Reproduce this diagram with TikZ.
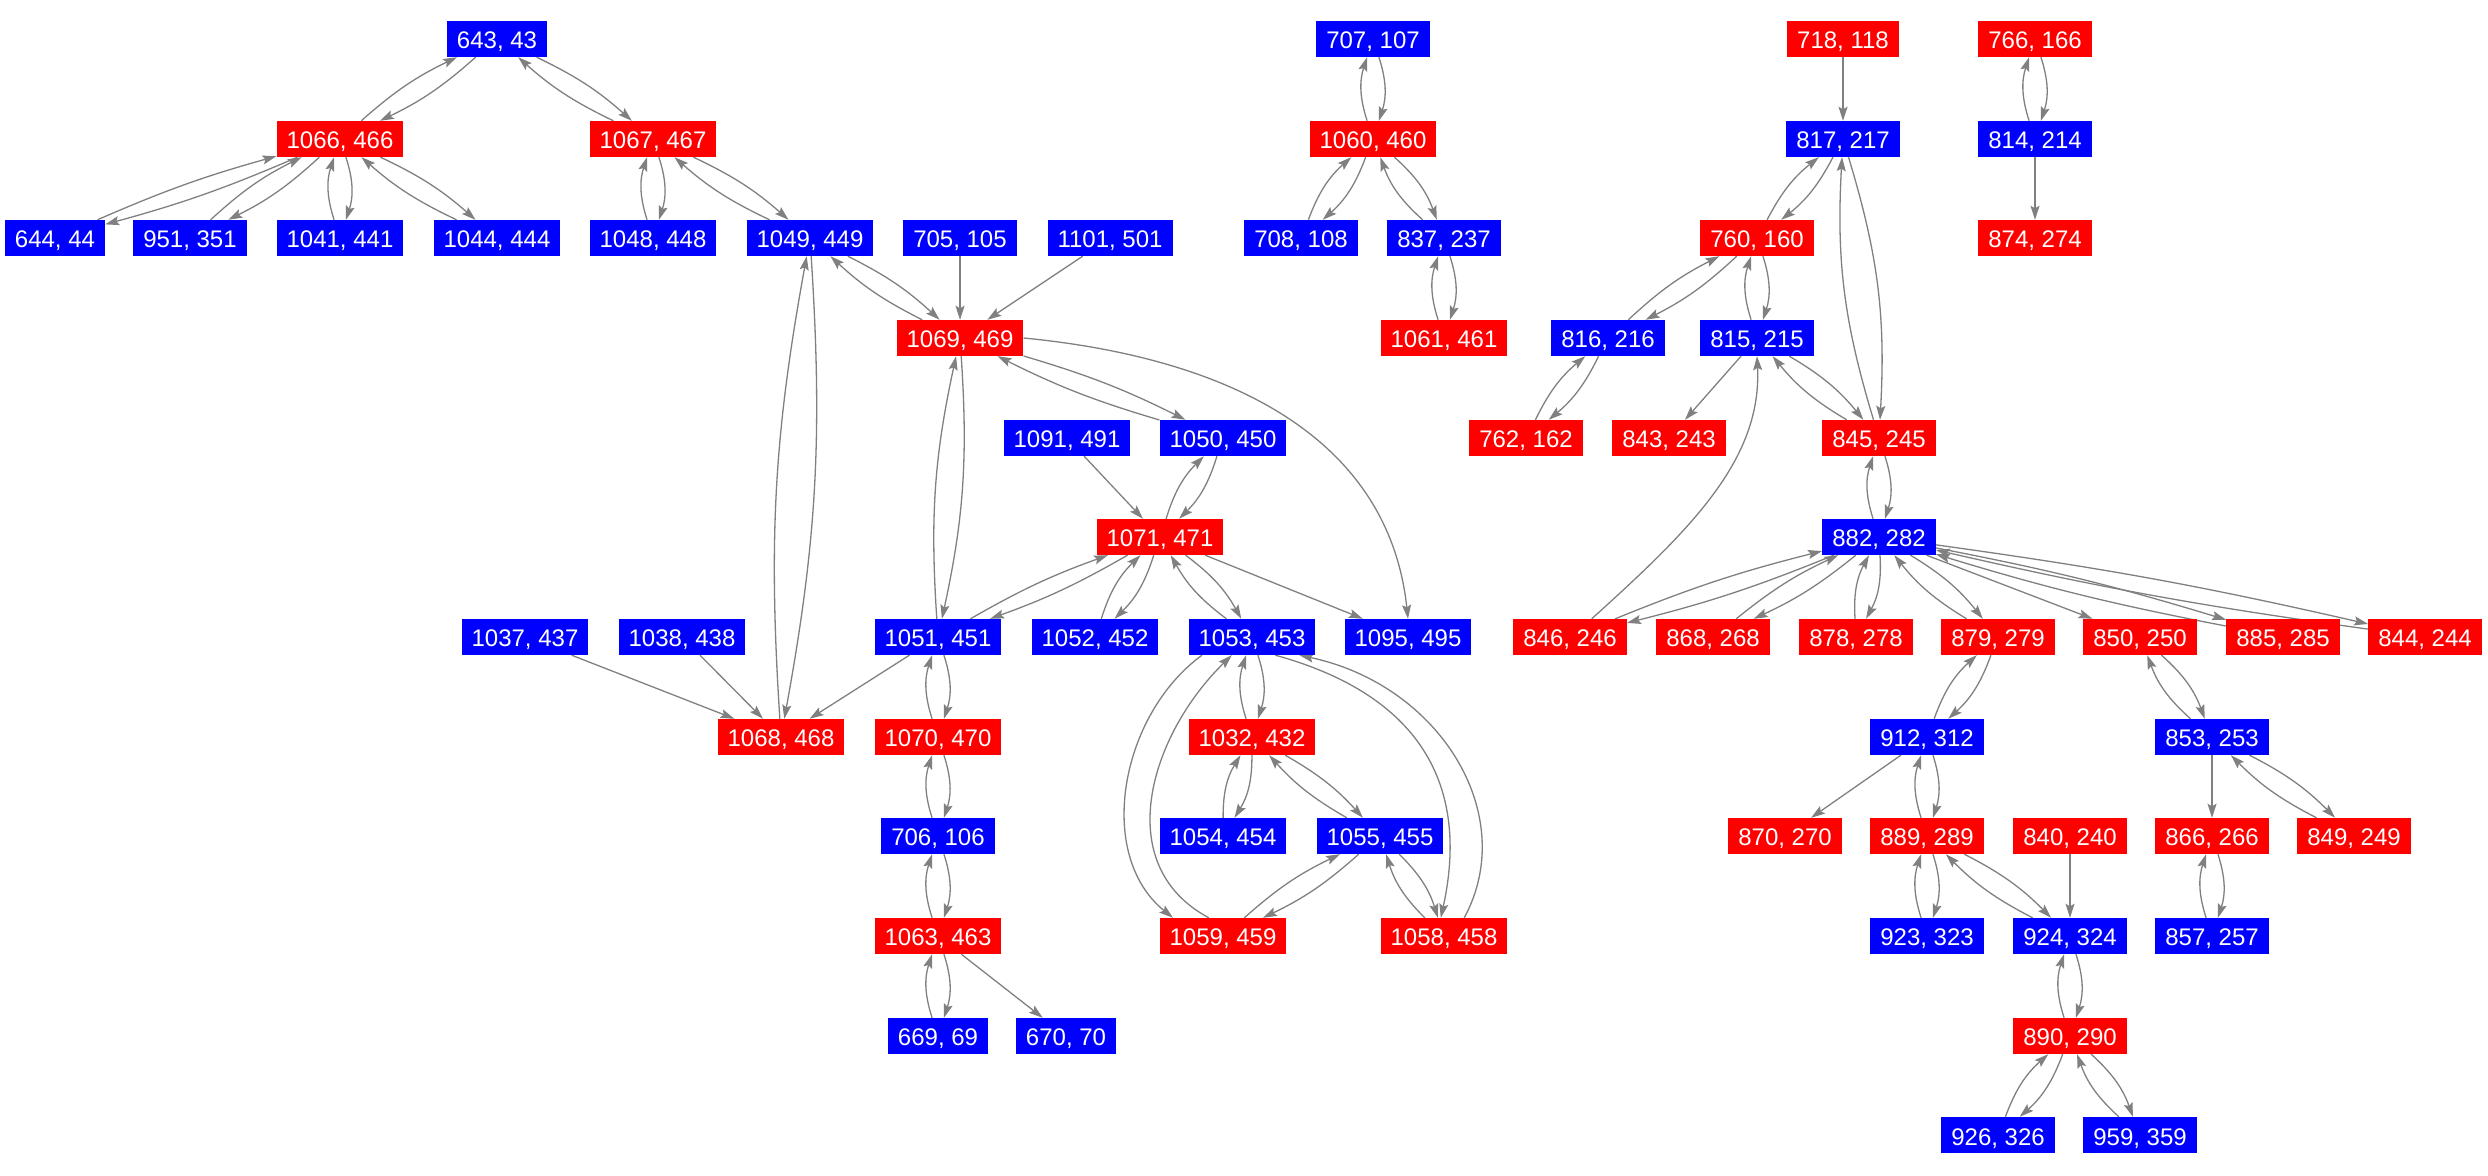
\documentclass[tikz,border=0pt]{standalone}
\usepackage{fontspec}
\setmainfont{Liberation Sans}
\usetikzlibrary{arrows.meta,backgrounds}

\begin{document}
\begin{tikzpicture}[x=1pt,y=1pt,
	bnode/.style={rectangle,fill=blue,text=white,inner xsep=10pt,inner ysep=0pt,minimum height=36pt,text height=20pt,text depth=0pt,font=\fontsize{24}{28}\selectfont},
	rnode/.style={bnode,fill=red},
	flow/.style={draw=gray,line width=1.3pt,-{Stealth[length=14pt,width=9pt,inset=2.5pt]}}]
	 \useasboundingbox (0,0) rectangle (2488,1175);%for adjustment

            % blue states
            \foreach \x/\y/\a/\b in {497/1136/643/43, 55/937/644/44, 190/937/951/351, 340/937/1041/441,
              497/937/1044/444, 653/937/1048/448, 810/937/1049/449, 960/937/705/105, 1110/937/1101/501,
              1373/1136/707/107, 1301/937/708/108, 1444/937/837/237, 1843/1036/817/217, 2035/1036/814/214,
              1608/837/816/216, 1757/837/815/215, 1067/737/1091/491, 1223/737/1050/450, 525/538/1037/437,
              682/538/1038/438, 938/538/1051/451, 1095/538/1052/452, 1252/538/1053/453, 1408/538/1095/495,
              1879/638/882/282, 1927/438/912/312, 2212/438/853/253, 938/339/706/106, 1223/339/1054/454,
              1380/339/1055/455, 938/139/669/69, 1066/139/670/70, 1927/239/923/323, 2070/239/924/324,
              2212/239/857/257, 1998/40/926/326, 2140/40/959/359}{
              \node[bnode] (n\a) at (\x,\y) {\a, \b};
            }

            % red states
            \foreach \x/\y/\a/\b in {340/1036/1066/466, 653/1036/1067/467, 1373/1036/1060/460, 1843/1136/718/118,
              2035/1136/766/166, 1757/937/760/160, 2035/937/874/274, 960/837/1069/469, 1444/837/1061/461,
              1160/638/1071/471, 1526/737/762/162, 1669/737/843/243, 1879/737/845/245, 1570/538/846/246,
              1713/538/868/268, 1856/538/878/278, 1998/538/879/279, 2140/538/850/250, 2283/538/885/285,
              2425/538/844/244, 781/438/1068/468, 938/438/1070/470, 1252/438/1032/432, 1785/339/870/270,
              1927/339/889/289, 2070/339/840/240, 2212/339/866/266, 2354/339/849/249, 938/239/1063/463,
              1223/239/1059/459, 1444/239/1058/458, 2070/139/890/290}{
              \node[rnode] (n\a) at (\x,\y) {\a, \b};
            }

          \begin{pgfonlayer}{background}
            % both ways
            \foreach \a/\b/\t in {643/1066/8, 643/1067/8, 1066/644/4, 1066/951/8, 1066/1041/18, 1066/1044/8,
              1067/1048/18, 1067/1049/8, 1049/1069/8, 1049/1068/7, 1069/1051/8, 1069/1050/5,
              707/1060/18, 1060/708/14, 1060/837/14, 837/1061/18, 1050/1071/14, 1071/1051/5,
              1071/1052/14, 1071/1053/12, 1051/1070/18, 1070/706/18, 706/1063/18, 1063/669/18,
              1053/1032/18, 1032/1054/16, 1032/1055/9, 1055/1059/8, 1055/1058/14,
              766/814/18, 817/760/12, 817/845/10, 760/816/8, 760/815/18, 816/762/12, 815/845/10,
              845/882/18, 882/846/4, 882/868/7, 882/878/16, 882/879/10, 882/885/3, 882/844/2.5,
              879/912/14, 850/853/14, 912/889/18, 853/849/9, 889/923/18, 889/924/9, 866/857/18,
              924/890/18, 890/926/14, 890/959/14}{
              \draw[flow] (n\a) to[bend left=\t] (n\b);
              \draw[flow] (n\b) to[bend left=\t] (n\a);
            }

            % one way
            \foreach \a/\b in {705/1069, 1101/1069, 1091/1071, 1071/1095, 1037/1068, 1038/1068, 1051/1068,
              1063/670, 718/817, 814/874, 815/843, 882/850, 912/870, 853/866, 840/924}{
              \draw[flow] (n\a) -- (n\b);
            }

            \draw[flow] (n1069.east) .. controls (1250,815) and (1390,725) .. (n1095.north);
            \draw[flow] (n846.40) .. controls (1690,645) and (1762,715) .. (n815.south);
            \draw[flow] (n1053.200) .. controls (1120,460) and (1095,320) .. (n1059.160);
            \draw[flow] (n1059.128) .. controls (1110,310) and (1150,440) .. (n1053.222);
            \draw[flow] (n1053.322) .. controls (1420,480) and (1470,390) .. (n1058.100);
            \draw[flow] (n1058.42) .. controls (1520,360) and (1440,490) .. (n1053.339);
          \end{pgfonlayer}
        \end{tikzpicture}
\end{document}
